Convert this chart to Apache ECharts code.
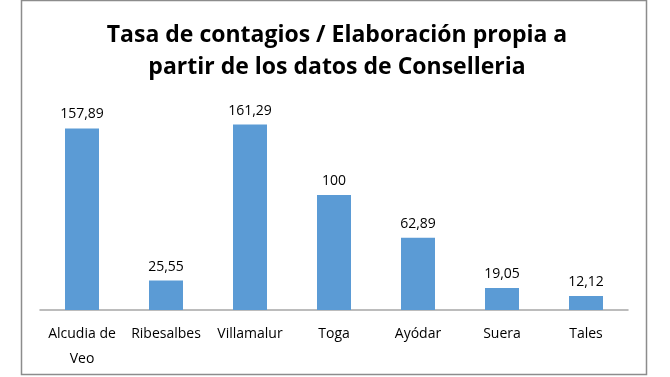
<!DOCTYPE html>
<html>
<head>
<meta charset="utf-8">
<script src="https://cdn.jsdelivr.net/npm/echarts@6/dist/echarts.min.js"></script>
<style>
  html, body { margin: 0; padding: 0; background: #fff; }
  #chart { width: 670px; height: 377px; }
</style>
</head>
<body>
<div id="chart"></div>
<script>
// datos
var municipios = [ 'Alcudia de\nVeo', 'Ribesalbes', 'Villamalur', 'Toga', 'Ayódar', 'Suera', 'Tales' ];
var tasas = [ 157.89, 25.55, 161.29, 100, 62.89, 19.05, 12.12 ];
var etiquetas = [ '157,89', '25,55', '161,29', '100', '62,89', '19,05', '12,12' ];

var chart = echarts.init( document.getElementById( 'chart' ), null, { renderer: 'canvas' } );

chart.setOption({
	animation: false,
	textStyle: { fontFamily: '"Open Sans", sans-serif' },
	graphic: [
		{
			type: 'rect',
			shape: { x: 21.5, y: 0.5, width: 625, height: 374 },
			style: { fill: 'none', stroke: '#8c8c8c', lineWidth: 1.5 },
			z: 100
		}
	],
	title: {
		text: 'Tasa de contagios / Elaboración propia a\npartir de los datos de Conselleria',
		left: 332,
		top: 14,
		textAlign: 'center',
		textStyle: {
			fontFamily: '"Open Sans", sans-serif',
			fontSize: 23,
			fontWeight: 'bold',
			color: '#000',
			lineHeight: 32
		}
	},
	grid: { left: 40, right: 42, top: 103, bottom: 67, containLabel: false },
	xAxis: {
		type: 'category',
		data: municipios,
		axisLine: { lineStyle: { color: '#a6a6a6', width: 1.5 } },
		axisTick: { show: false },
		axisLabel: {
			color: '#000',
			fontSize: 14,
			margin: 12,
			lineHeight: 25,
			interval: 0
		}
	},
	yAxis: {
		type: 'value',
		min: 0,
		max: 180,
		interval: 20,
		show: false,
		splitLine: { show: false }
	},
	series: [
		{
			type: 'bar',
			data: tasas,
			barWidth: 34,
			itemStyle: { color: '#5b9bd5' },
			label: {
				show: true,
				position: 'top',
				distance: 7,
				color: '#000',
				fontSize: 14,
				formatter: function( p ){ return etiquetas[ p.dataIndex ]; }
			}
		}
	]
});
</script>
</body>
</html>
